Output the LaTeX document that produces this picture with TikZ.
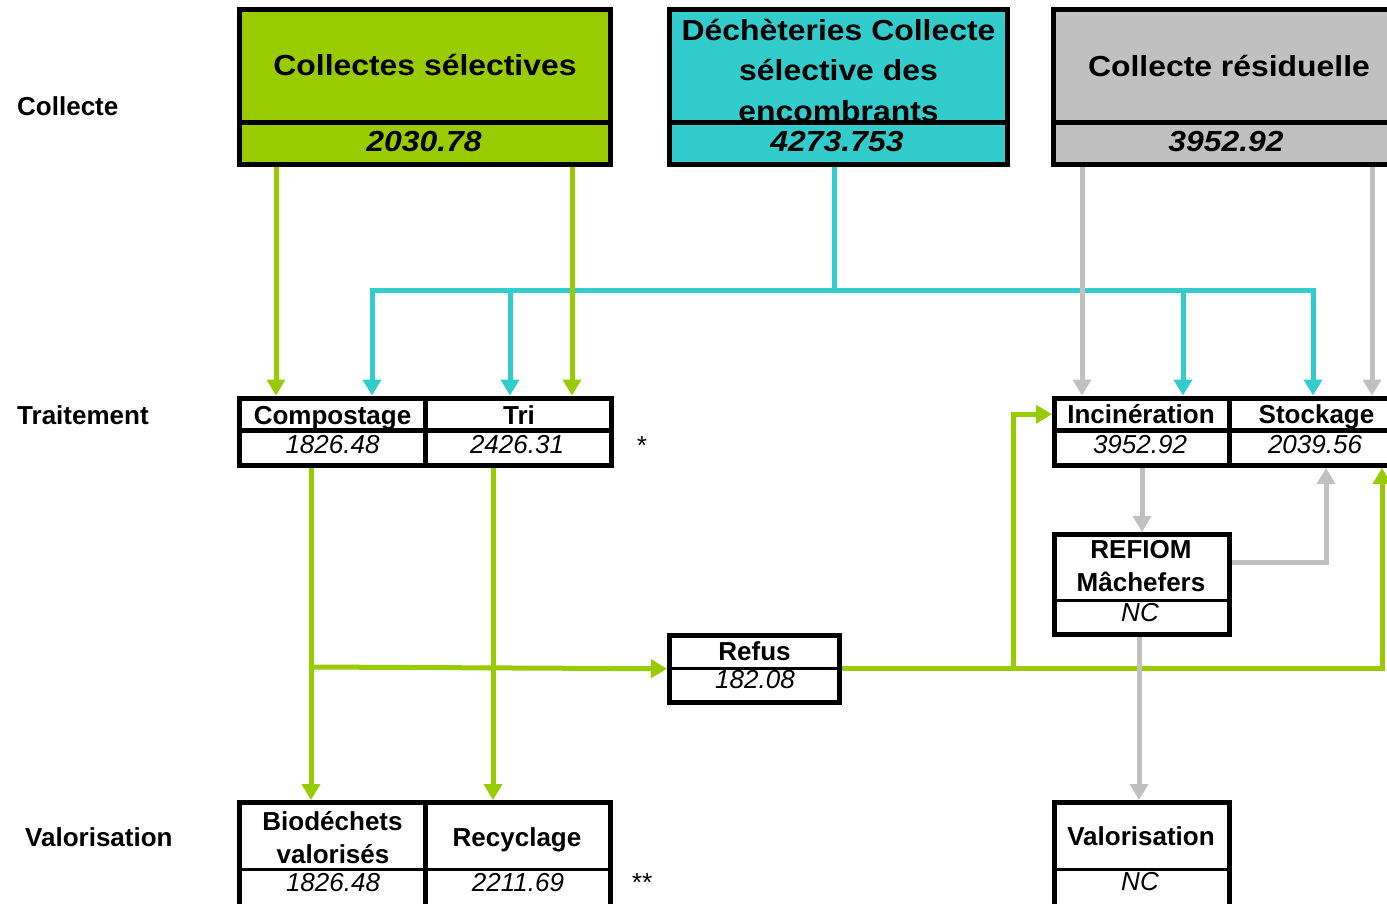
\documentclass[tikz,border=0pt]{standalone}
\usepackage{fontspec}
\setmainfont{Liberation Sans}
\newfontfamily\hdrfont[FakeStretch=1.1]{Liberation Sans}
\usetikzlibrary{arrows.meta,calc}
\definecolor{sgreen}{HTML}{99CC00}
\definecolor{scyan}{HTML}{33CCCC}
\definecolor{sgray}{HTML}{C0C0C0}
\tikzset{
  cell/.style={draw=black, line width=5pt, inner sep=0pt, minimum width=#1},
  cellh/.style={minimum height=#1},
  txt/.style={inner sep=0pt, anchor=base},
  lbl/.style={txt, font=\fontsize{26}{30}\selectfont\bfseries},
  val/.style={txt, font=\fontsize{26}{30}\selectfont\itshape},
  hdr/.style={txt, font=\hdrfont\fontsize{29}{34}\selectfont\bfseries},
  hdrnum/.style={txt, font=\hdrfont\fontsize{29}{34}\selectfont\bfseries\itshape},
  divider/.style={draw=black, line width=3pt},
  flow/.style={line width=5pt},
  gflow/.style={flow, draw=sgreen},
  cflow/.style={flow, draw=scyan},
  yflow/.style={flow, draw=sgray},
  tip/.style={-{Triangle[width=18pt,length=16pt]}}
}
\begin{document}
\begin{tikzpicture}[x=1pt,y=-1pt]
\useasboundingbox (0,0) rectangle (1387,903);

% row labels
\node[lbl, anchor=base west] (lcol) at (17,115) {Collecte};
\node[lbl, anchor=base west] (ltrt) at (17,424) {Traitement};
\node[lbl, anchor=base west] (lval) at (25,846) {Valorisation};

% ---- Collecte boxes
\node[cell=371, cellh=113, fill=sgreen] (gt) at (425,66) {};
\node[hdr] (gtx) at (425,75.5) {Collectes sélectives};
\node[cell=371, cellh=42, fill=sgreen] (gn) at (425,143.5) {};
\node[hdrnum] (gnx) at (424,151.5) {2030.78};

\node[cell=338, cellh=113, fill=scyan] (ct) at (838.5,66) {};
\node[hdr] (ctx1) at (838.5,40) {Déchèteries Collecte};
\node[hdr] (ctx2) at (838.5,80.5) {sélective des};
\node[hdr] (ctx3) at (838.5,121.5) {encombrants};
\node[cell=338, cellh=42, fill=scyan] (cn) at (838.5,143.5) {};
\node[hdrnum] (cnx) at (837,151.5) {4273.753};

\node[cell=351, cellh=113, fill=sgray] (rt) at (1229,66) {};
\node[hdr] (rtx) at (1229,76) {Collecte résiduelle};
\node[cell=351, cellh=42, fill=sgray] (rn) at (1229,143.5) {};
\node[hdrnum] (rnx) at (1226,151.5) {3952.92};

% ---- Traitement boxes
\node[cell=186, cellh=32.5] (compt) at (332.5,414.25) {};
\node[cell=186, cellh=35] (compn) at (332.5,448) {};
\node[cell=185.5, cellh=32.5] (trit) at (518.25,414.25) {};
\node[cell=185.5, cellh=35] (trin) at (518.25,448) {};
\node[lbl] (comptx) at (332.5,424) {Compostage};
\node[val] (compnx) at (332.5,453) {1826.48};
\node[lbl] (tritx) at (519,424) {Tri};
\node[val] (trinx) at (517,453) {2426.31};
\node[val, anchor=base] (star1) at (641,454) {*};

\node[cell=175, cellh=32.5] (inct) at (1142,414.25) {};
\node[cell=175, cellh=35] (incn) at (1142,448) {};
\node[cell=174, cellh=32.5] (stot) at (1316.5,414.25) {};
\node[cell=174, cellh=35] (ston) at (1316.5,448) {};
\node[lbl] (inctx) at (1141,423.5) {Incinération};
\node[val] (incnx) at (1140,453) {3952.92};
\node[lbl] (stotx) at (1316.5,423.5) {Stockage};
\node[val] (stonx) at (1315,453) {2039.56};

\node[cell=175, cellh=100] (refiom) at (1142,584.5) {};
\draw[divider] (refiom.west |- 0,600) -- (refiom.east |- 0,600);
\node[lbl] (refx1) at (1141,558) {REFIOM};
\node[lbl] (refx2) at (1141,591.5) {Mâchefers};
\node[val] (refx3) at (1140,621) {NC};

\node[cell=170, cellh=67.5] (refus) at (754.5,668.75) {};
\draw[divider] (refus.west |- 0,668) -- (refus.east |- 0,668);
\node[lbl] (refusx) at (754.5,660) {Refus};
\node[val] (refusn) at (755,688) {182.08};

% ---- Valorisation boxes
\node[cell=186, cellh=112.5] (biod) at (332.5,858.75) {};
\node[cell=185, cellh=112.5] (recyc) at (518,858.75) {};
\draw[divider] (biod.west |- 0,869) -- (recyc.east |- 0,869);
\node[lbl] (biodx1) at (332.5,830) {Biodéchets};
\node[lbl] (biodx2) at (333,863) {valorisés};
\node[val] (biodn) at (333,891) {1826.48};
\node[lbl] (recycx) at (517,846) {Recyclage};
\node[val] (recycn) at (518,891) {2211.69};
\node[val, anchor=base] (star2) at (641,891) {**};

\node[cell=175, cellh=112.5] (valnc) at (1142,858.75) {};
\draw[divider] (valnc.west |- 0,869) -- (valnc.east |- 0,869);
\node[lbl] (valncx) at (1141,845) {Valorisation};
\node[val] (valncn) at (1140,890) {NC};

% ---- helper x positions
\coordinate (xA) at (276,0);
\coordinate (xB) at (572,0);
\coordinate (xC1) at (372,0);
\coordinate (xC2) at (510,0);
\coordinate (xC3) at (1183,0);
\coordinate (xC4) at (1313,0);
\coordinate (xD1) at (1082,0);
\coordinate (xD2) at (1372,0);
\coordinate (xE1) at (311,0);
\coordinate (xE2) at (493,0);
\coordinate (xE3) at (1382,0);
\coordinate (xE4) at (1013,0);
\coordinate (xF1) at (1142,0);
\coordinate (xF2) at (1326,0);
\coordinate (xF3) at (1139,0);
\coordinate (cj) at (834,290);
\coordinate (gj1) at (311,667);

% ---- cyan connectors
\draw[cflow] (cn.south -| cj) -- (cj);
\draw[cflow,tip] (cj) -| (compt.north -| xC1);
\draw[cflow,tip] (cj) -| (trit.north -| xC2);
\draw[cflow,tip] (cj) -| (inct.north -| xC3);
\draw[cflow,tip] (cj) -| (stot.north -| xC4);

% ---- green connectors
\draw[gflow,tip] (gn.south -| xA) -- (compt.north -| xA);
\draw[gflow,tip] (gn.south -| xB) -- (trit.north -| xB);
\draw[gflow,tip] (compn.south -| xE1) -- (biod.north -| xE1);
\draw[gflow,tip] (gj1) -- (refus.west);
\draw[gflow,tip] (trin.south -| xE2) -- (recyc.north -| xE2);
\draw[gflow,tip] (refus.east) -| (ston.south -| xE3);
\draw[gflow,tip] (refus.east -| xE4) |- (inct.west);

% ---- gray connectors
\draw[yflow,tip] (rn.south -| xD1) -- (inct.north -| xD1);
\draw[yflow,tip] (rn.south -| xD2) -- (stot.north -| xD2);
\draw[yflow,tip] (incn.south -| xF1) -- (refiom.north -| xF1);
\draw[yflow,tip] ([yshift=22.5pt]refiom.east) -| (ston.south -| xF2);
\draw[yflow,tip] (refiom.south -| xF3) -- (valnc.north -| xF3);
\end{tikzpicture}
\end{document}
